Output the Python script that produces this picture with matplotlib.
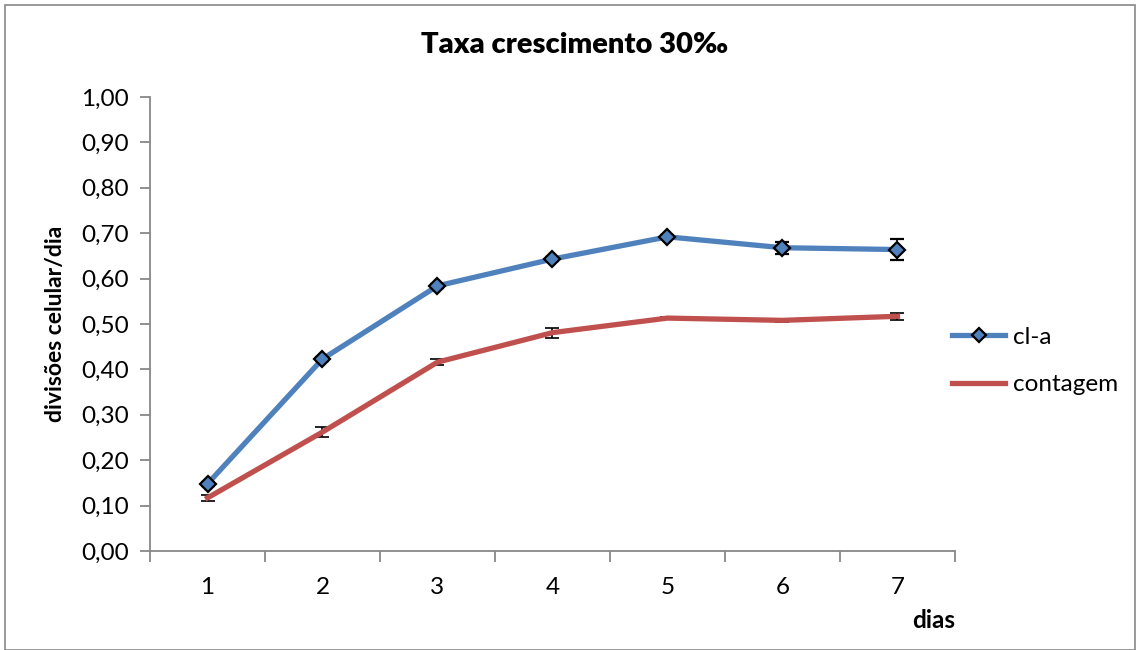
import matplotlib
matplotlib.use('Agg')
import matplotlib.pyplot as plt
from matplotlib.lines import Line2D
from matplotlib.patches import Rectangle
from matplotlib.ticker import FixedLocator, FuncFormatter

plt.rcParams['font.family'] = ['Lato', 'DejaVu Sans']

# taxa de crescimento por dia
dias = [1, 2, 3, 4, 5, 6, 7]
cla = [0.148, 0.423, 0.584, 0.643, 0.692, 0.668, 0.664]
cla_err = [0.004, 0.004, 0.004, 0.004, 0.003, 0.013, 0.023]
contagem = [0.117, 0.262, 0.416, 0.481, 0.513, 0.508, 0.517]
contagem_err = [0.007, 0.011, 0.006, 0.011, 0.002, 0.004, 0.008]

azul = '#4F81BD'
vermelho = '#C0504D'
cinza = '#888888'

fig = plt.figure(figsize=(11.4, 6.5), dpi=100)
ax = fig.add_axes([150/1140, 1-551/650, 805/1140, 454/650])

ax.errorbar(dias, contagem, yerr=contagem_err, color=vermelho, lw=3.8,
            ecolor='black', elinewidth=1.2, capsize=5, capthick=1.2, zorder=2)
ax.errorbar(dias, cla, yerr=cla_err, color=azul, lw=3.8, marker='D',
            markersize=8.5, markerfacecolor=azul, markeredgecolor='black',
            markeredgewidth=1.6, ecolor='black', elinewidth=1.2, capsize=5,
            capthick=1.2, zorder=3)

ax.set_xlim(0.5, 7.5)
ax.set_ylim(0, 1.0)
ax.set_yticks([i/10 for i in range(11)])
ax.yaxis.set_major_formatter(FuncFormatter(lambda v, p: f'{v:.2f}'.replace('.', ',')))
ax.set_xticks(dias)
ax.xaxis.set_minor_locator(FixedLocator([d + 0.5 for d in [0] + dias]))
ax.tick_params(axis='x', which='major', length=0, pad=19, labelsize=17.5)
ax.tick_params(axis='x', which='minor', length=8, color=cinza, width=1.3)
ax.tick_params(axis='y', length=7, color=cinza, width=1.3, pad=8, labelsize=17.5)

for s in ['top', 'right']:
    ax.spines[s].set_visible(False)
for s in ['left', 'bottom']:
    ax.spines[s].set_color(cinza)
    ax.spines[s].set_linewidth(1.3)

fig.text(575/1140, 1-45/650, 'Taxa crescimento 30‰', fontsize=21,
         fontweight='heavy', ha='center', va='center')
ax.set_ylabel('divisões celular/dia', fontsize=16.5, fontweight='bold')
ax.yaxis.set_label_coords(-84/805, 0.5)
fig.text(934/1140, 1-620/650, 'dias', fontsize=17.5, fontweight='bold',
         ha='center', va='center')

handles = [
    Line2D([], [], color=azul, lw=3.8, marker='D', markersize=7,
           markerfacecolor=azul, markeredgecolor='black', markeredgewidth=1.6),
    Line2D([], [], color=vermelho, lw=3.8),
]
fig.legend(handles, ['cl-a', 'contagem'], loc='center left',
           bbox_to_anchor=(952/1140, 1-361/650), frameon=False, borderpad=0,
           borderaxespad=0, fontsize=17.5, handlelength=2.2, labelspacing=1.1,
           handletextpad=0.3)

fig.patches.append(Rectangle((5/1140, 0), 1130/1140, 645/650,
                             transform=fig.transFigure, fill=False,
                             edgecolor=cinza, lw=1.2))

fig.savefig('out.png')
